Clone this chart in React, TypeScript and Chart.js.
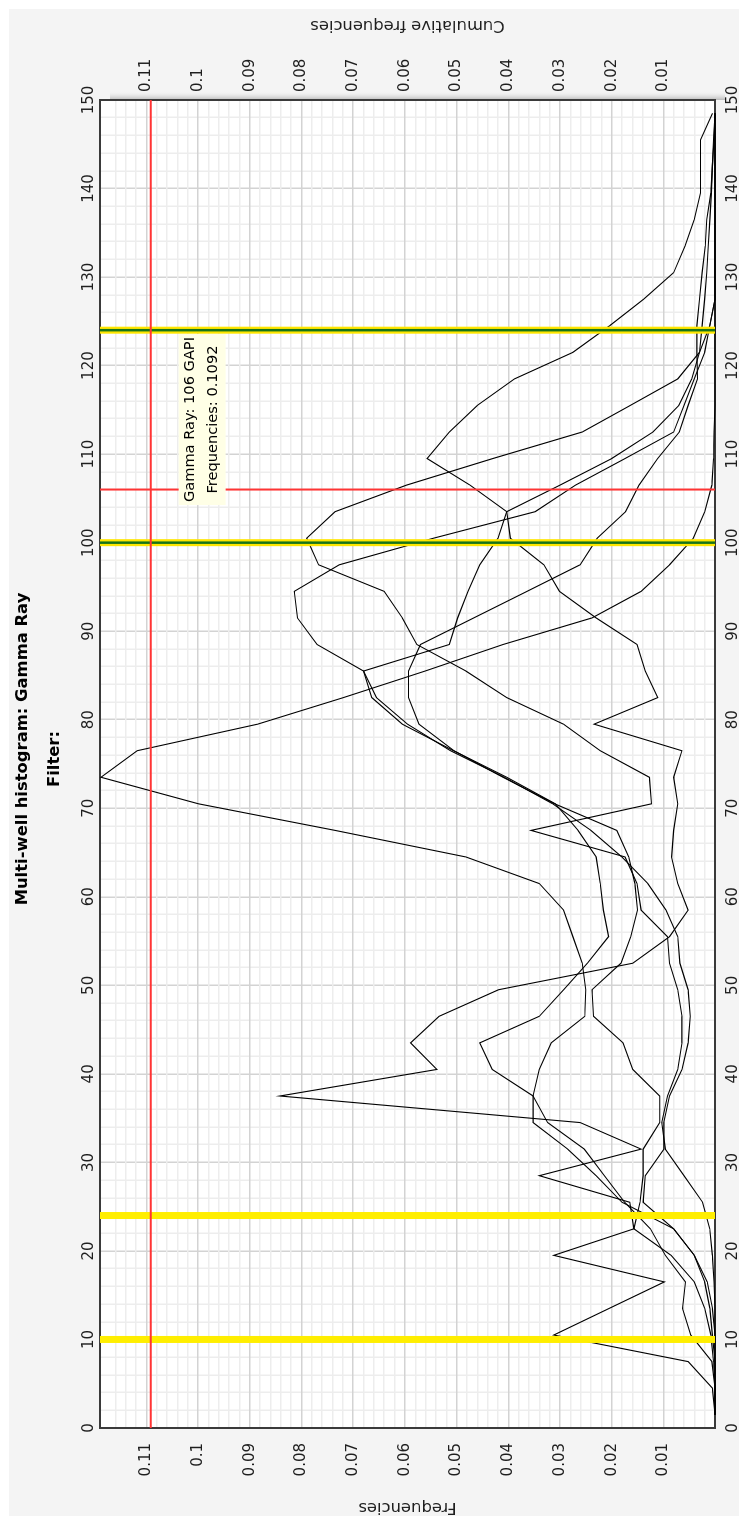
import { useEffect, useRef } from 'react';
import { Chart, registerables } from 'chart.js';

Chart.register(...registerables);

// Gamma-ray histogram bin centres (GAPI), 3 GAPI wide bins
const GR_BINS = [
  1.5, 4.5, 7.5, 10.5, 13.5, 16.5, 19.5, 22.5, 25.5, 28.5,
  31.5, 34.5, 37.5, 40.5, 43.5, 46.5, 49.5, 52.5, 55.5, 58.5,
  61.5, 64.5, 67.5, 70.5, 73.5, 76.5, 79.5, 82.5, 85.5, 88.5,
  91.5, 94.5, 97.5, 100.5, 103.5, 106.5, 109.5, 112.5, 115.5, 118.5,
  121.5, 124.5, 127.5, 130.5, 133.5, 136.5, 139.5, 142.5, 145.5, 148.5,
];

// Relative frequency per bin, one array per well
const WELL_1 = [
  0, 0, 0.0006, 0.0047, 0.0063, 0.0057, 0.0096, 0.0125, 0.0175, 0.0214,
  0.0253, 0.0324, 0.0352, 0.034, 0.0317, 0.0252, 0.025, 0.0257, 0.0275, 0.0293,
  0.034, 0.0482, 0.0735, 0.0999, 0.1188, 0.1118, 0.0885, 0.0719, 0.0561, 0.041,
  0.0238, 0.0143, 0.0088, 0.0042, 0.002, 0.0006, 0.0003, 0.0002, 0, 0,
  0, 0, 0, 0, 0, 0, 0, 0, 0, 0,
];
const WELL_2 = [
  0, 0.0005, 0.0052, 0.0312, 0.0205, 0.0098, 0.0312, 0.0157, 0.0165, 0.034,
  0.0143, 0.0261, 0.0842, 0.0538, 0.0589, 0.0534, 0.0419, 0.0159, 0.0088, 0.0052,
  0.0072, 0.0084, 0.008, 0.0072, 0.008, 0.0064, 0.0234, 0.0111, 0.0135, 0.0151,
  0.023, 0.0301, 0.0331, 0.0396, 0.0403, 0.0474, 0.0557, 0.0514, 0.046, 0.0388,
  0.0275, 0.0204, 0.0138, 0.008, 0.0058, 0.004, 0.0028, 0.0028, 0.0028, 0.0005,
];
const WELL_3 = [
  0, 0, 0, 0, 0, 0.0002, 0.0005, 0.001, 0.0024, 0.006,
  0.0096, 0.0103, 0.0092, 0.0072, 0.0064, 0.0064, 0.0072, 0.0088, 0.0092, 0.0143,
  0.0151, 0.0174, 0.0356, 0.0123, 0.0127, 0.0222, 0.0293, 0.0403, 0.0482, 0.0577,
  0.0605, 0.064, 0.0767, 0.079, 0.0735, 0.0597, 0.043, 0.0257, 0.0164, 0.0072,
  0.003, 0.001, 0, 0, 0, 0, 0, 0, 0, 0,
];
const WELL_4 = [
  0, 0, 0, 0.0005, 0.001, 0.002, 0.004, 0.008, 0.018, 0.023,
  0.0285, 0.0352, 0.0352, 0.0431, 0.0455, 0.034, 0.0293, 0.0247, 0.0206, 0.0216,
  0.0222, 0.023, 0.0265, 0.0309, 0.0403, 0.0506, 0.0605, 0.0664, 0.068, 0.077,
  0.0808, 0.0814, 0.0727, 0.0545, 0.0348, 0.027, 0.0174, 0.008, 0.006, 0.004,
  0.002, 0.001, 0, 0, 0, 0, 0, 0, 0, 0,
];
const WELL_5 = [
  0, 0, 0.0003, 0.0008, 0.002, 0.004, 0.0085, 0.0157, 0.0145, 0.0139,
  0.0139, 0.0107, 0.0107, 0.0159, 0.0178, 0.0235, 0.0238, 0.0182, 0.0163, 0.015,
  0.0155, 0.0167, 0.019, 0.031, 0.041, 0.0505, 0.0573, 0.0593, 0.0593, 0.057,
  0.0467, 0.0364, 0.0261, 0.0228, 0.0173, 0.0147, 0.0111, 0.0069, 0.0052, 0.0034,
  0.0035, 0.0035, 0.003, 0.0025, 0.0019, 0.0016, 0.0008, 0.0005, 0.0003, 0,
];
const WELL_6 = [
  0, 0, 0, 0, 0.0005, 0.0015, 0.004, 0.008, 0.0139, 0.0135,
  0.0099, 0.0099, 0.0088, 0.0064, 0.0052, 0.0048, 0.0052, 0.0068, 0.0072, 0.0095,
  0.013, 0.018, 0.024, 0.0314, 0.0408, 0.0512, 0.0595, 0.0655, 0.068, 0.0514,
  0.0498, 0.0478, 0.0455, 0.042, 0.0403, 0.03, 0.02, 0.012, 0.007, 0.0045,
  0.003, 0.0025, 0.002, 0.0016, 0.0013, 0.001, 0.0007, 0.0005, 0.0002, 0,
];
const WELLS = [WELL_1, WELL_2, WELL_3, WELL_4, WELL_5, WELL_6];

// Axis ranges
const GR_MIN = 0;
const GR_MAX = 150;
const FREQ_MAX = 0.119;

// Cut-off markers and cursor readout
const YELLOW_CUTOFFS = [10, 24];
const GREEN_CUTOFFS = [100, 124];
const CURSOR_GR = 106;
const CURSOR_FREQ = 0.1092;

const TITLE = 'Multi-well histogram: Gamma Ray';
const SUBTITLE = 'Filter:';
const FREQ_TITLE = 'Frequencies';
const CUM_TITLE = 'Cumulative frequencies';

const CANVAS_W = 1516;
const CANVAS_H = 739;
const FONT = '"DejaVu Sans", Verdana, sans-serif';
const TEXT = '#1e1e1e';

const isMajorGr = (v: number) => Math.abs(v % 10) < 1e-9;
const isMajorFreq = (v: number) => Math.abs(v * 100 - Math.round(v * 100)) < 1e-6;

const freqLabel = (v: number) => {
  const r = Math.round(v * 1000);
  if (r > 0 && r % 10 === 0 && Math.abs(v * 1000 - r) < 1e-6) return String(r / 1000);
  return '';
};

const decor = {
  id: 'decor',
  beforeDraw(chart: any) {
    const { ctx, width, height, chartArea: a } = chart;
    ctx.save();
    ctx.fillStyle = '#ffffff';
    ctx.fillRect(0, 0, width, height);
    ctx.fillStyle = '#f4f4f4';
    ctx.fillRect(0, 9, width - 9, height - 9);
    // soft shadow beside the plot
    const g = ctx.createLinearGradient(a.right, 0, a.right + 9, 0);
    g.addColorStop(0, '#b9b9b9');
    g.addColorStop(1, 'rgba(244,244,244,0)');
    ctx.fillStyle = g;
    ctx.fillRect(a.right, a.top + 10, 9, a.bottom - a.top);
    ctx.fillStyle = '#ffffff';
    ctx.fillRect(a.left, a.top, a.right - a.left, a.bottom - a.top);
    ctx.restore();
  },
  beforeDatasetsDraw(chart: any) {
    const { ctx, chartArea: a } = chart;
    ctx.save();
    ctx.strokeStyle = '#3a3a3a';
    ctx.lineWidth = 2;
    ctx.strokeRect(a.left, a.top, a.right - a.left, a.bottom - a.top);
    ctx.restore();
  },
  afterDatasetsDraw(chart: any) {
    const { ctx, chartArea: a, scales } = chart;
    const xs = scales.x;
    const ys = scales.y;
    ctx.save();
    const vline = (v: number, color: string, w: number) => {
      const px = xs.getPixelForValue(v);
      ctx.strokeStyle = color;
      ctx.lineWidth = w;
      ctx.beginPath();
      ctx.moveTo(px, a.top);
      ctx.lineTo(px, a.bottom);
      ctx.stroke();
    };
    YELLOW_CUTOFFS.forEach((v) => vline(v, '#ffee00', 7));
    GREEN_CUTOFFS.forEach((v) => {
      vline(v, '#ffe600', 7);
      vline(v, '#17741a', 2.5);
    });
    // cursor cross-hair
    const cx = xs.getPixelForValue(CURSOR_GR);
    const cy = ys.getPixelForValue(CURSOR_FREQ);
    ctx.strokeStyle = '#ff3434';
    ctx.lineWidth = 2;
    ctx.beginPath();
    ctx.moveTo(cx, a.top);
    ctx.lineTo(cx, a.bottom);
    ctx.moveTo(a.left, cy);
    ctx.lineTo(a.right, cy);
    ctx.stroke();
    // readout box
    const l1 = `Gamma Ray: ${CURSOR_GR} GAPI`;
    const l2 = `Frequencies: ${CURSOR_FREQ}`;
    ctx.font = `14.6px ${FONT}`;
    const w = Math.max(ctx.measureText(l1).width, ctx.measureText(l2).width) + 6;
    const bx = cx + 70;
    const top = cy + 28;
    ctx.fillStyle = '#ffffe6';
    ctx.fillRect(bx - w / 2, top, w, 47);
    ctx.fillStyle = '#000000';
    ctx.textAlign = 'center';
    ctx.textBaseline = 'middle';
    ctx.fillText(l1, bx, top + 12);
    ctx.fillText(l2, bx, top + 35);
    ctx.restore();
  },
  afterDraw(chart: any) {
    const { ctx, chartArea: a } = chart;
    const midY = (a.top + a.bottom) / 2;
    ctx.save();
    ctx.fillStyle = '#000000';
    ctx.textAlign = 'center';
    ctx.textBaseline = 'middle';
    ctx.font = `bold 16.4px ${FONT}`;
    ctx.fillText(TITLE, 767, 23);
    ctx.fillText(SUBTITLE, 757, 55);
    ctx.font = `16.4px ${FONT}`;
    ctx.fillStyle = TEXT;
    const rotated = (text: string, x: number) => {
      ctx.save();
      ctx.translate(x, midY);
      ctx.rotate(-Math.PI / 2);
      ctx.fillText(text, 0, 0);
      ctx.restore();
    };
    rotated(FREQ_TITLE, 9);
    rotated(CUM_TITLE, 1491);
    ctx.restore();
  },
};

const tickFont = { family: FONT, size: 15 };

export default function App() {
  const ref = useRef<HTMLCanvasElement | null>(null);

  useEffect(() => {
    document.body.style.margin = '0';
    const datasets = WELLS.map((well, i) => ({
      label: `Well ${i + 1}`,
      data: GR_BINS.map((g, j) => ({ x: g, y: well[j] })),
      borderColor: '#000000',
      borderWidth: 1.1,
      pointRadius: 0,
      tension: 0,
      clip: 4,
      xAxisID: 'x',
      yAxisID: 'y',
    }));

    const chart = new Chart(ref.current as HTMLCanvasElement, {
      type: 'line',
      data: { datasets },
      plugins: [decor],
      options: {
        responsive: false,
        maintainAspectRatio: false,
        devicePixelRatio: 1,
        animation: false,
        layout: { padding: 0 },
        plugins: { legend: { display: false }, tooltip: { enabled: false } },
        scales: {
          x: {
            type: 'linear',
            position: 'bottom',
            min: GR_MIN,
            max: GR_MAX,
            border: { display: false },
            grid: {
              drawTicks: false,
              lineWidth: 1.5,
              color: (c: any) => (c.tick && isMajorGr(c.tick.value) ? '#d3d3d3' : '#ededed'),
            },
            ticks: {
              stepSize: 2,
              autoSkip: false,
              maxRotation: 0,
              padding: 9,
              color: TEXT,
              font: tickFont,
              callback: (v: any) => (isMajorGr(Number(v)) ? String(v) : ''),
            },
            afterFit: (s: any) => {
              s.height = 24;
            },
          },
          x2: {
            type: 'linear',
            position: 'top',
            min: GR_MIN,
            max: GR_MAX,
            border: { display: false },
            grid: { display: false, drawTicks: false },
            ticks: {
              stepSize: 10,
              autoSkip: false,
              maxRotation: 0,
              padding: 2,
              color: TEXT,
              font: tickFont,
            },
            afterFit: (s: any) => {
              s.height = 100;
            },
          },
          y: {
            type: 'linear',
            position: 'left',
            min: 0,
            max: FREQ_MAX,
            border: { display: false },
            grid: {
              drawTicks: false,
              lineWidth: 1.5,
              color: (c: any) => (c.tick && isMajorFreq(c.tick.value) ? '#d3d3d3' : '#ededed'),
            },
            ticks: {
              stepSize: 0.002,
              autoSkip: false,
              padding: 15,
              color: TEXT,
              font: tickFont,
              callback: (v: any) => freqLabel(Number(v)),
            },
            afterFit: (s: any) => {
              s.width = 88;
            },
          },
          y2: {
            type: 'linear',
            position: 'right',
            min: 0,
            max: FREQ_MAX,
            border: { display: false },
            grid: { display: false, drawTicks: false },
            ticks: {
              stepSize: 0.002,
              autoSkip: false,
              padding: 8,
              color: TEXT,
              font: tickFont,
              callback: (v: any) => freqLabel(Number(v)),
            },
            afterFit: (s: any) => {
              s.width = 100;
            },
          },
        },
      },
    } as any);

    return () => chart.destroy();
  }, []);

  return (
    <div style={{ position: 'absolute', left: 0, top: 0, width: 739, height: 1516, overflow: 'hidden', background: '#ffffff' }}>
      <div
        style={{
          position: 'absolute',
          left: 0,
          top: 0,
          width: CANVAS_W,
          height: CANVAS_H,
          transformOrigin: '0 0',
          transform: `translateY(${CANVAS_W}px) rotate(-90deg)`,
        }}
      >
        <canvas ref={ref} width={CANVAS_W} height={CANVAS_H} style={{ display: 'block', width: CANVAS_W, height: CANVAS_H }} />
      </div>
    </div>
  );
}
